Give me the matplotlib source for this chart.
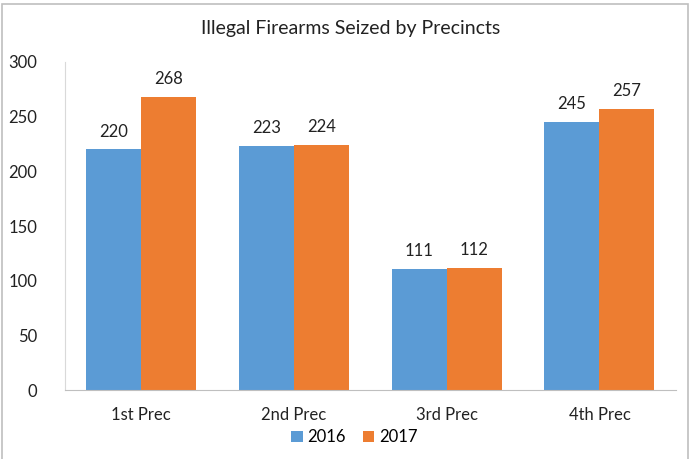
import matplotlib
matplotlib.use("Agg")
import matplotlib.pyplot as plt
import matplotlib.patches as mpatches
import numpy as np

plt.rcParams['font.family'] = ['Lato', 'DejaVu Sans']

# данные графика
precincts = ['1st Prec', '2nd Prec', '3rd Prec', '4th Prec']
seized_2016 = [220, 223, 111, 245]
seized_2017 = [268, 224, 112, 257]
years = ['2016', '2017']

blue = '#5B9BD5'
orange = '#ED7D31'

fig = plt.figure(figsize=(6.91, 4.59), dpi=100)
ax = fig.add_axes([0.094, 0.150, 0.884, 0.715])

x = np.arange(len(precincts))
w = 0.36
b1 = ax.bar(x - w / 2, seized_2016, w, color=blue, label=years[0])
b2 = ax.bar(x + w / 2, seized_2017, w, color=orange, label=years[1])

for bars in (b1, b2):
    ax.bar_label(bars, padding=7, fontsize=12, color='#222222')

ax.set_xlim(-0.5, len(precincts) - 0.5)
ax.set_ylim(0, 300)
ax.set_yticks(range(0, 301, 50))
ax.set_xticks(x)
ax.set_xticklabels(precincts)
ax.tick_params(axis='y', length=0, pad=20, labelsize=12, colors='#222222')
ax.tick_params(axis='x', length=0, pad=12, labelsize=12, colors='#222222')

for s in ('top', 'right'):
    ax.spines[s].set_visible(False)
ax.spines['left'].set_color('#D9D9D9')
ax.spines['bottom'].set_color('#BFBFBF')

fig.text(0.507, 0.938, 'Illegal Firearms Seized by Precincts', ha='center',
         va='center', fontsize=14, color='#222222')

fig.legend(loc='center', bbox_to_anchor=(0.513, 0.047), ncol=2, frameon=False,
           fontsize=12, handlelength=0.7, handleheight=0.7, handletextpad=0.3,
           columnspacing=1.0)

# рамка вокруг диаграммы
fig.patches.append(mpatches.Rectangle((2 / 691, -0.1), 686 / 691, 1.1 - 4 / 459,
                                      transform=fig.transFigure, fill=False,
                                      edgecolor='#BFBFBF', linewidth=1.2))

fig.savefig('out.png', dpi=100)
